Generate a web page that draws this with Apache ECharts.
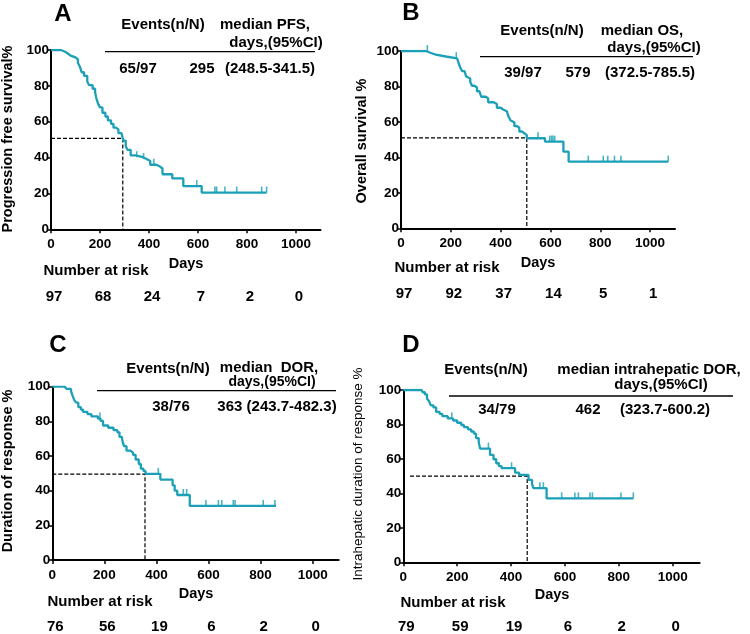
<!DOCTYPE html>
<html><head><meta charset="utf-8">
<script src="https://cdn.jsdelivr.net/npm/echarts@6/dist/echarts.min.js"></script>
<style>html,body{margin:0;padding:0;background:#fff}#c{width:750px;height:634px}</style>
</head><body><div id="c"></div>
<script>
// ---------- DATA ----------
const xTicks = [0, 200, 400, 600, 800, 1000];
const yTicks = [0, 20, 40, 60, 80, 100];

const kmA = [[0,100],[40,100],[45,99],[58,97.9],[70,96.9],[80,95.9],[100,94.8],[110,92.8],[118,90.7],[125,87.6],[135,85.6],[148,82.5],[155,80.4],[170,78.4],[180,76.3],[185,73.2],[192,70.1],[200,68.0],[210,65.0],[222,62.9],[232,60.8],[245,58.8],[255,56.7],[265,55.7],[275,53.6],[288,52.6],[295,49.5],[305,46.4],[312,44.3],[325,41.2],[345,40.2],[375,39.2],[390,38.1],[405,36.0],[430,35.0],[445,33.9],[455,30.7],[495,28.4],[540,24.1],[615,20.5],[880,20.5]];
const censorA = [350, 378, 420, 595, 669, 676, 710, 758, 860, 880];
const medianA = [293, 50.7];
const riskA = [97, 68, 24, 7, 2, 0];

const kmB = [[0,100],[100,100],[108,99],[118,97.9],[140,96.9],[180,95.9],[225,94.8],[232,92.8],[238,90.7],[245,88.7],[255,87.6],[262,85.6],[270,84.5],[278,82.5],[285,80.4],[295,79.4],[305,77.3],[315,76.3],[322,74.2],[340,73.2],[350,71.1],[372,70.1],[385,68.0],[400,67.0],[410,66.0],[425,64.9],[432,62.9],[440,60.8],[448,59.8],[455,57.7],[465,56.7],[475,54.6],[485,53.6],[495,52.5],[505,50.8],[578,48.9],[652,43.2],[673,37.6],[1073,37.6]];
const censorB = [106, 222, 550, 597, 604, 610, 617, 752, 812, 830, 857, 883, 1073];
const medianB = [505, 51];
const riskB = [97, 92, 37, 14, 5, 1];

const kmC = [[0,100],[48,100],[55,98.7],[72,97.4],[78,94.7],[85,92.1],[92,90.8],[100,88.2],[110,86.8],[118,85.5],[135,84.2],[150,82.9],[175,81.6],[185,80.3],[195,77.6],[215,76.3],[235,75.0],[250,73.7],[258,71.0],[268,69.7],[275,65.7],[285,63.1],[300,62.0],[310,60.7],[320,58.0],[332,55.4],[340,52.7],[350,51.4],[358,49.7],[415,46.4],[462,43.1],[470,40.0],[480,37.5],[528,31.2],[859,31.2]];
const censorC = [183, 407, 503, 516, 590, 638, 651, 695, 702, 810, 855];
const medianC = [356, 49.6];
const riskC = [76, 56, 19, 6, 2, 0];

const kmD = [[0,100],[68,100],[72,98.7],[80,97.5],[88,94.9],[95,93.7],[102,91.1],[112,89.9],[122,87.3],[135,86.1],[145,84.8],[165,83.5],[185,82.3],[200,81.0],[215,79.7],[225,78.4],[240,77.2],[252,75.9],[262,74.7],[270,72.1],[280,69.6],[285,66.0],[322,62.3],[335,59.8],[345,57.5],[355,55.8],[365,54.6],[415,52.0],[430,50.7],[465,47.8],[478,45.5],[483,43.0],[532,37.1],[854,37.1]];
const censorD = [180, 316, 402, 507, 520, 588, 637, 650, 693, 702, 808, 854];
const medianD = [460, 50];
const medianStartD = 25;
const riskD = [79, 59, 19, 6, 2, 0];

const letters = ['A', 'B', 'C', 'D'];
const yNames = ['Progression free survival%', 'Overall survival %', 'Duration of response %', 'Intrahepatic duration of response %'];
const eventsVals = ['65/97', '39/97', '38/76', '34/79'];

// ---------- LAYOUT ----------
const FONT = 'Liberation Sans, Arial, sans-serif';
const CURVE = '#1ba0b8';
const grids = [
  {left: 51, top: 50, width: 269.5, height: 179.3},
  {left: 401, top: 51, width: 274, height: 177.3},
  {left: 52.3, top: 386.7, width: 286.4, height: 173.3},
  {left: 403.3, top: 390, width: 296.3, height: 172.3}
];
const panels = [
  {km: kmA, censor: censorA, median: medianA, mstart: 0, risk: riskA},
  {km: kmB, censor: censorB, median: medianB, mstart: 0, risk: riskB},
  {km: kmC, censor: censorC, median: medianC, mstart: 0, risk: riskC},
  {km: kmD, censor: censorD, median: medianD, mstart: medianStartD, risk: riskD}
];

function stepVal(km, d) {
  let v = km[0][1];
  for (const p of km) { if (p[0] <= d) v = p[1]; }
  return v;
}

const chart = echarts.init(document.getElementById('c'), null, {renderer: 'canvas'});
const xAxis = [], yAxis = [], series = [];
grids.forEach((g, i) => {
  xAxis.push({
    gridIndex: i, type: 'value', min: 0, max: 1100,
    axisLine: {lineStyle: {color: '#000', width: 2}},
    axisTick: {length: 4, lineStyle: {color: '#000', width: 1.5}, customValues: xTicks},
    axisLabel: {color: '#000', fontWeight: 'bold', fontSize: 13.5, fontFamily: FONT, margin: 8, customValues: xTicks, formatter: v => String(v)},
    splitLine: {show: false}
  });
  yAxis.push({
    gridIndex: i, type: 'value', min: 0, max: 100, interval: 20,
    axisLine: {show: true, lineStyle: {color: '#000', width: 2}},
    axisTick: {show: true, length: 4, lineStyle: {color: '#000', width: 1.5}},
    axisLabel: {color: '#000', fontWeight: 'bold', fontSize: 13.5, fontFamily: FONT, margin: 2, formatter: v => String(v)},
    splitLine: {show: false}
  });
  const p = panels[i];
  series.push({
    type: 'line', xAxisIndex: i, yAxisIndex: i, step: 'end', data: p.km,
    symbol: 'none', lineStyle: {color: CURVE, width: 2.3}, z: 5, animation: false
  });
  series.push({
    type: 'scatter', xAxisIndex: i, yAxisIndex: i,
    data: p.censor.map(d => [d, stepVal(p.km, d)]),
    symbol: 'rect', symbolSize: [1.6, 6], symbolOffset: [0, -3],
    itemStyle: {color: CURVE}, z: 6, animation: false
  });
  series.push({
    type: 'line', xAxisIndex: i, yAxisIndex: i,
    data: [[p.mstart, p.median[1]], [p.median[0], p.median[1]], [p.median[0], 0]],
    symbol: 'none', lineStyle: {color: '#000', width: 1.2, type: [4, 2]}, z: 4, animation: false
  });
});

chart.setOption({
  animation: false,
  grid: grids.map(g => Object.assign({containLabel: false}, g)),
  xAxis, yAxis, series
});

// ---------- TEXT ----------
function T(text, x, y, opt) {
  return {
    type: 'text', x, y,
    style: Object.assign({text, fill: '#000', font: 'bold 15px ' + FONT, align: 'center', verticalAlign: 'middle'}, opt || {})
  };
}
function L(x1, x2, y) {
  return {type: 'line', shape: {x1, y1: y, x2, y2: y}, style: {stroke: '#000', lineWidth: 1.3}};
}
const g = [];
const LF = {font: 'bold 24px ' + FONT};
g.push(T(letters[0], 63, 14, LF));
g.push(T(letters[1], 411, 13, LF));
g.push(T(letters[2], 58, 345, LF));
g.push(T(letters[3], 411, 345, LF));
// y names
const yNamePos = [[8, 139, 'bold 14.5px '], [362, 141, 'bold 14.5px '], [8, 471, 'bold 14.5px '], [358, 474, '13.5px ']];
yNamePos.forEach((p, i) => {
  g.push({type: 'text', x: p[0], y: p[1], rotation: Math.PI / 2,
    style: {text: yNames[i], fill: '#000', font: p[2] + FONT, align: 'center', verticalAlign: 'middle'}});
});
// Days
const DF = {font: 'bold 14.5px ' + FONT};
g.push(T('Days', 186, 264, DF));
g.push(T('Days', 538, 263, DF));
g.push(T('Days', 196, 594, DF));
g.push(T('Days', 552, 595, DF));
// Number at risk
g.push(T('Number at risk', 96, 271));
g.push(T('Number at risk', 447, 268));
g.push(T('Number at risk', 100, 602));
g.push(T('Number at risk', 453, 603));
// tables
// A
g.push(T('Events(n/N)', 163, 25));
g.push(T('median PFS,', 265, 25));
g.push(T('days,(95%CI)', 276, 43));
g.push(L(105, 315, 51.7));
g.push(T(eventsVals[0], 138, 69));
g.push(T('295', 202, 69));
g.push(T('(248.5-341.5)', 270, 69));
// B
g.push(T('Events(n/N)', 542, 31));
g.push(T('median OS,', 642, 31));
g.push(T('days,(95%CI)', 654, 48));
g.push(L(480, 693, 56.7));
g.push(T(eventsVals[1], 523, 73));
g.push(T('579', 578, 73));
g.push(T('(372.5-785.5)', 650, 73));
// C
g.push(T('Events(n/N)', 168, 369));
g.push(T('median  DOR,', 269, 368));
g.push(T('days,(95%CI)', 272, 382.5, {font: 'bold 14px ' + FONT}));
g.push(L(97, 336, 390.7));
g.push(T(eventsVals[2], 171, 406.7));
g.push(T('363 (243.7-482.3)', 277, 406.7));
// D
g.push(T('Events(n/N)', 486, 370));
g.push(T('median intrahepatic DOR,', 649, 370));
g.push(T('days,(95%CI)', 661, 385));
g.push(L(449, 733, 396));
g.push(T(eventsVals[3], 497, 410));
g.push(T('462', 588, 410));
g.push(T('(323.7-600.2)', 665, 410));
// numbers at risk aligned to x ticks
const riskYOff = [67.4, 65.7, 66.7, 64.4];
panels.forEach((p, i) => {
  p.risk.forEach((v, k) => {
    const px = chart.convertToPixel({xAxisIndex: i, yAxisIndex: i}, [xTicks[k], 0]);
    g.push(T(String(v), px[0] + 3, px[1] + riskYOff[i]));
  });
});
chart.setOption({graphic: {elements: g}});
</script></body></html>
